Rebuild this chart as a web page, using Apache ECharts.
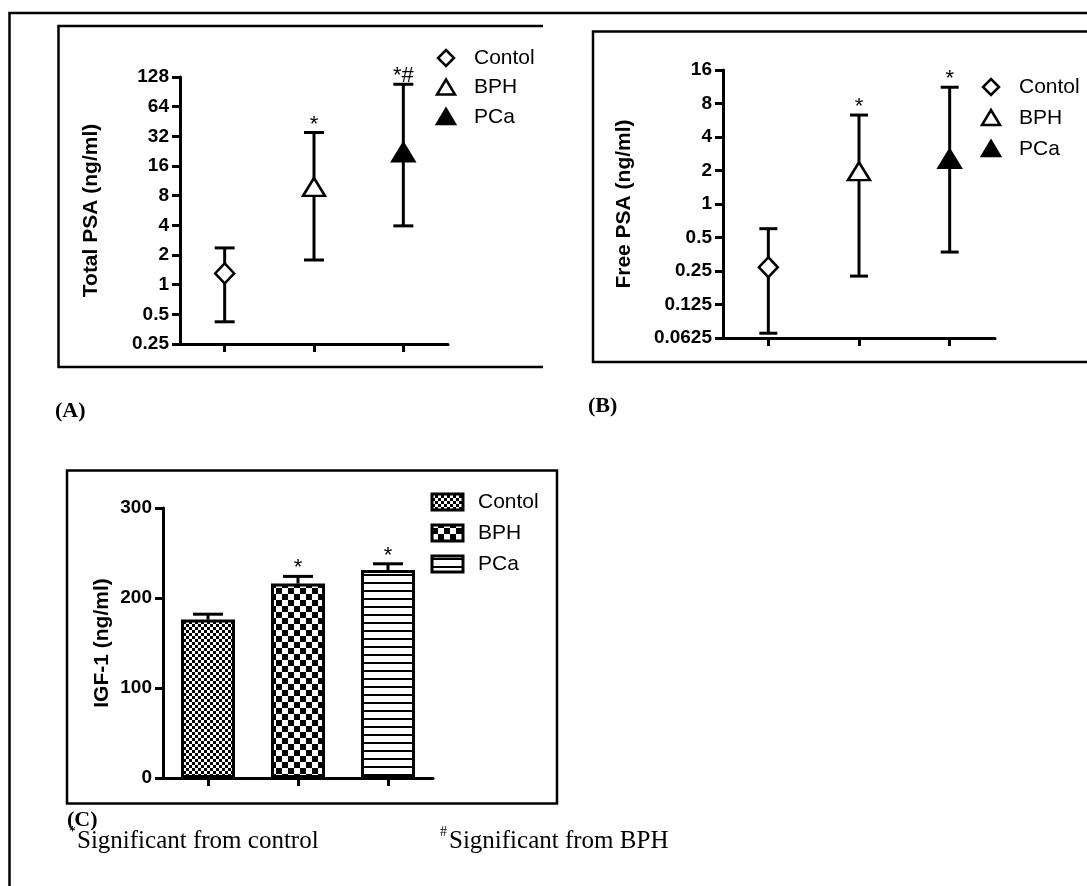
<!DOCTYPE html>
<html>
<head>
<meta charset="utf-8">
<script src="https://cdn.jsdelivr.net/npm/echarts@6/dist/echarts.min.js"></script>
<style>
html,body{margin:0;padding:0;background:#fff;}
#chart{width:1087px;height:886px;}
</style>
</head>
<body>
<div id="chart"></div>
<script>
// ---------- data ----------
const categories = ['Contol', 'BPH', 'PCa'];

const totalPsaMean = [1.3, 9.8, 22];
const totalPsaLow  = [0.42, 1.78, 3.95];
const totalPsaHigh = [2.36, 35, 108];
const totalPsaMarks = ['', '*', '*#'];
const totalPsaMin = 0.25, totalPsaMax = 128;

const freePsaMean = [0.27, 1.97, 2.55];
const freePsaLow  = [0.069, 0.225, 0.37];
const freePsaHigh = [0.6, 6.3, 11.2];
const freePsaMarks = ['', '*', '*'];
const freePsaMin = 0.0625, freePsaMax = 16;

const igfMean = [176, 216, 231];
const igfHigh = [182, 224, 238];
const igfMarks = ['', '*', '*'];
const igfMax = 300, igfInterval = 100;

const panelLabels = ['(A)', '(B)', '(C)'];
const footnotes = [['*', 'Significant from control'], ['#', 'Significant from BPH']];

// ---------- styles ----------
const SANS = 'Liberation Sans, Arial, sans-serif';
const SERIF = 'Liberation Serif, Times New Roman, serif';
const symbols = ['diamond', 'triangle', 'triangle'];
const fills = ['#fff', '#fff', '#000'];

function makePattern(kind) {
  const c = document.createElement('canvas');
  const ctx = c.getContext('2d');
  if (kind === 0) {
    c.width = 6; c.height = 6;
    ctx.fillStyle = '#fff'; ctx.fillRect(0, 0, 6, 6);
    ctx.fillStyle = '#000';
    ctx.fillRect(0, 0, 3, 3); ctx.fillRect(3, 3, 3, 3);
  } else if (kind === 1) {
    c.width = 12; c.height = 12;
    ctx.fillStyle = '#fff'; ctx.fillRect(0, 0, 12, 12);
    ctx.fillStyle = '#000';
    ctx.fillRect(0, 0, 6, 6); ctx.fillRect(6, 6, 6, 6);
  } else {
    c.width = 8; c.height = 8;
    ctx.fillStyle = '#fff'; ctx.fillRect(0, 0, 8, 8);
    ctx.fillStyle = '#000';
    ctx.fillRect(0, 6, 8, 2);
  }
  return c;
}
const patterns = [0, 1, 2].map(makePattern);

function logLabel(v) { return String(+(+v).toPrecision(6)); }

function yLogAxis(gridIndex, min, max, name, nameGap) {
  const span = Math.round(Math.log2(max) - Math.log2(min));
  return {
    type: 'log', logBase: 2, gridIndex, min, max, splitNumber: span,
    name, nameLocation: 'middle', nameGap, nameRotate: 90,
    nameTextStyle: { fontFamily: SANS, fontWeight: 'bold', fontSize: 21, color: '#000' },
    axisLine: { show: true, lineStyle: { color: '#000', width: 3 } },
    axisTick: { show: true, length: 8, lineStyle: { color: '#000', width: 3 } },
    axisLabel: { formatter: logLabel, fontFamily: SANS, fontWeight: 'bold', fontSize: 19, color: '#000', margin: 11 },
    splitLine: { show: false }
  };
}
function xCatAxis(gridIndex) {
  return {
    type: 'category', gridIndex, data: categories, boundaryGap: true,
    axisLine: { show: true, onZero: false, lineStyle: { color: '#000', width: 3 } },
    axisTick: { show: true, alignWithLabel: true, length: 8, lineStyle: { color: '#000', width: 3 } },
    axisLabel: { show: false },
    splitLine: { show: false }
  };
}

function errorSeries(idx, low, high, marks, capW, lowerCap) {
  return {
    type: 'custom', xAxisIndex: idx, yAxisIndex: idx, z: 3,
    data: categories.map((c, i) => [i, low[i], high[i], marks[i]]),
    encode: { x: 0, y: [1, 2] },
    renderItem: function (params, api) {
      const i = api.value(0);
      const pLo = api.coord([i, api.value(1)]);
      const pHi = api.coord([i, api.value(2)]);
      const x = pLo[0];
      const st = { stroke: '#000', lineWidth: 3, lineCap: 'butt' };
      const children = [
        { type: 'line', shape: { x1: x, y1: pLo[1], x2: x, y2: pHi[1] }, style: st },
        { type: 'line', shape: { x1: x - capW / 2, y1: pHi[1], x2: x + capW / 2, y2: pHi[1] }, style: st }
      ];
      if (lowerCap) children.push({ type: 'line', shape: { x1: x - capW / 2, y1: pLo[1], x2: x + capW / 2, y2: pLo[1] }, style: st });
      const mark = marks[i];
      if (mark) children.push({ type: 'text', style: { text: mark, x: x, y: pHi[1] + 3, align: 'center', verticalAlign: 'bottom', fontFamily: SANS, fontSize: 22, fill: '#000' } });
      return { type: 'group', children };
    }
  };
}
function markerSeries(idx, mean) {
  return {
    type: 'scatter', xAxisIndex: idx, yAxisIndex: idx, z: 5,
    data: categories.map((c, i) => ({
      value: [i, mean[i]], symbol: symbols[i], symbolSize: i === 0 ? [19, 20] : [22, 18],
      itemStyle: { color: fills[i], opacity: 1, borderColor: '#000', borderWidth: 2.5 }
    }))
  };
}

// ---------- graphics (frames, legends, labels) ----------
const graphic = [];
const frameStyle = { stroke: '#000', lineWidth: 2.5, fill: null };
graphic.push({ type: 'polyline', shape: { points: [[9.5, 886], [9.5, 13], [1087, 13]] }, style: frameStyle });
graphic.push({ type: 'polyline', shape: { points: [[543, 26], [58.5, 26], [58.5, 367], [543, 367]] }, style: frameStyle });
graphic.push({ type: 'polyline', shape: { points: [[1087, 31.5], [593, 31.5], [593, 362], [1087, 362]] }, style: frameStyle });
graphic.push({ type: 'rect', shape: { x: 67, y: 470.5, width: 490, height: 333 }, style: frameStyle });

function symbolLegend(x0, y0, dy) {
  categories.forEach((c, i) => {
    const cy = y0 + i * dy;
    let pts;
    if (i === 0) pts = [[x0, cy - 8], [x0 + 8, cy], [x0, cy + 8], [x0 - 8, cy]];
    else pts = [[x0, cy - 8], [x0 + 9, cy + 7], [x0 - 9, cy + 7]];
    graphic.push({ type: 'polygon', shape: { points: pts }, style: { fill: fills[i], stroke: '#000', lineWidth: 2.5 } });
    graphic.push({ type: 'text', style: { text: c, x: x0 + 28, y: cy, verticalAlign: 'middle', fontFamily: SANS, fontSize: 21, fill: '#000' } });
  });
}
symbolLegend(446, 58, 29.5);
symbolLegend(991, 87, 31);

categories.forEach((c, i) => {
  const cy = 502 + i * 31;
  graphic.push({ type: 'rect', shape: { x: 432, y: cy - 8, width: 31, height: 16 }, style: { fill: { image: patterns[i], repeat: 'repeat' }, stroke: '#000', lineWidth: 3 } });
  graphic.push({ type: 'text', style: { text: c, x: 478, y: cy, verticalAlign: 'middle', fontFamily: SANS, fontSize: 21, fill: '#000' } });
});

const panelLabelPos = [[55, 411], [588, 406], [67, 820]];
panelLabels.forEach((t, i) => {
  graphic.push({ type: 'text', style: { text: t, x: panelLabelPos[i][0], y: panelLabelPos[i][1], verticalAlign: 'middle', fontFamily: SERIF, fontWeight: 'bold', fontSize: 22, fill: '#000' } });
});
const footX = [[69, 77], [440, 449]];
footnotes.forEach((f, i) => {
  graphic.push({ type: 'text', style: { text: f[0], x: footX[i][0], y: 832, verticalAlign: 'middle', fontFamily: SERIF, fontSize: 14, fill: '#000' } });
  graphic.push({ type: 'text', style: { text: f[1], x: footX[i][1], y: 841, verticalAlign: 'middle', fontFamily: SERIF, fontSize: 25, fill: '#000' } });
});

// ---------- option ----------
const option = {
  backgroundColor: '#fff',
  animation: false,
  grid: [
    { left: 180, top: 77, width: 268, height: 267, containLabel: false, outerBoundsMode: 'none' },
    { left: 723, top: 70, width: 272, height: 268, containLabel: false, outerBoundsMode: 'none' },
    { left: 163, top: 508, width: 270, height: 270, containLabel: false, outerBoundsMode: 'none' }
  ],
  xAxis: [xCatAxis(0), xCatAxis(1), xCatAxis(2)],
  yAxis: [
    yLogAxis(0, totalPsaMin, totalPsaMax, 'Total PSA (ng/ml)', 78),
    yLogAxis(1, freePsaMin, freePsaMax, 'Free PSA (ng/ml)', 88),
    {
      type: 'value', gridIndex: 2, min: 0, max: igfMax, interval: igfInterval,
      name: 'IGF-1 (ng/ml)', nameLocation: 'middle', nameGap: 50, nameRotate: 90,
      nameTextStyle: { fontFamily: SANS, fontWeight: 'bold', fontSize: 21, color: '#000' },
      axisLine: { show: true, lineStyle: { color: '#000', width: 3 } },
      axisTick: { show: true, length: 8, lineStyle: { color: '#000', width: 3 } },
      axisLabel: { fontFamily: SANS, fontWeight: 'bold', fontSize: 19, color: '#000', margin: 11 },
      splitLine: { show: false }
    }
  ],
  series: [
    errorSeries(0, totalPsaLow, totalPsaHigh, totalPsaMarks, 20, true),
    markerSeries(0, totalPsaMean),
    errorSeries(1, freePsaLow, freePsaHigh, freePsaMarks, 18, true),
    markerSeries(1, freePsaMean),
    errorSeries(2, igfMean, igfHigh, igfMarks, 30, false),
    {
      type: 'bar', xAxisIndex: 2, yAxisIndex: 2, barWidth: 54, z: 4,
      data: igfMean.map((v, i) => ({ value: v, itemStyle: { color: { image: patterns[i], repeat: 'repeat' }, borderColor: '#000', borderWidth: 3 } }))
    }
  ],
  graphic
};

const chart = echarts.init(document.getElementById('chart'), null, { renderer: 'canvas' });
chart.setOption(option);
</script>
</body>
</html>
